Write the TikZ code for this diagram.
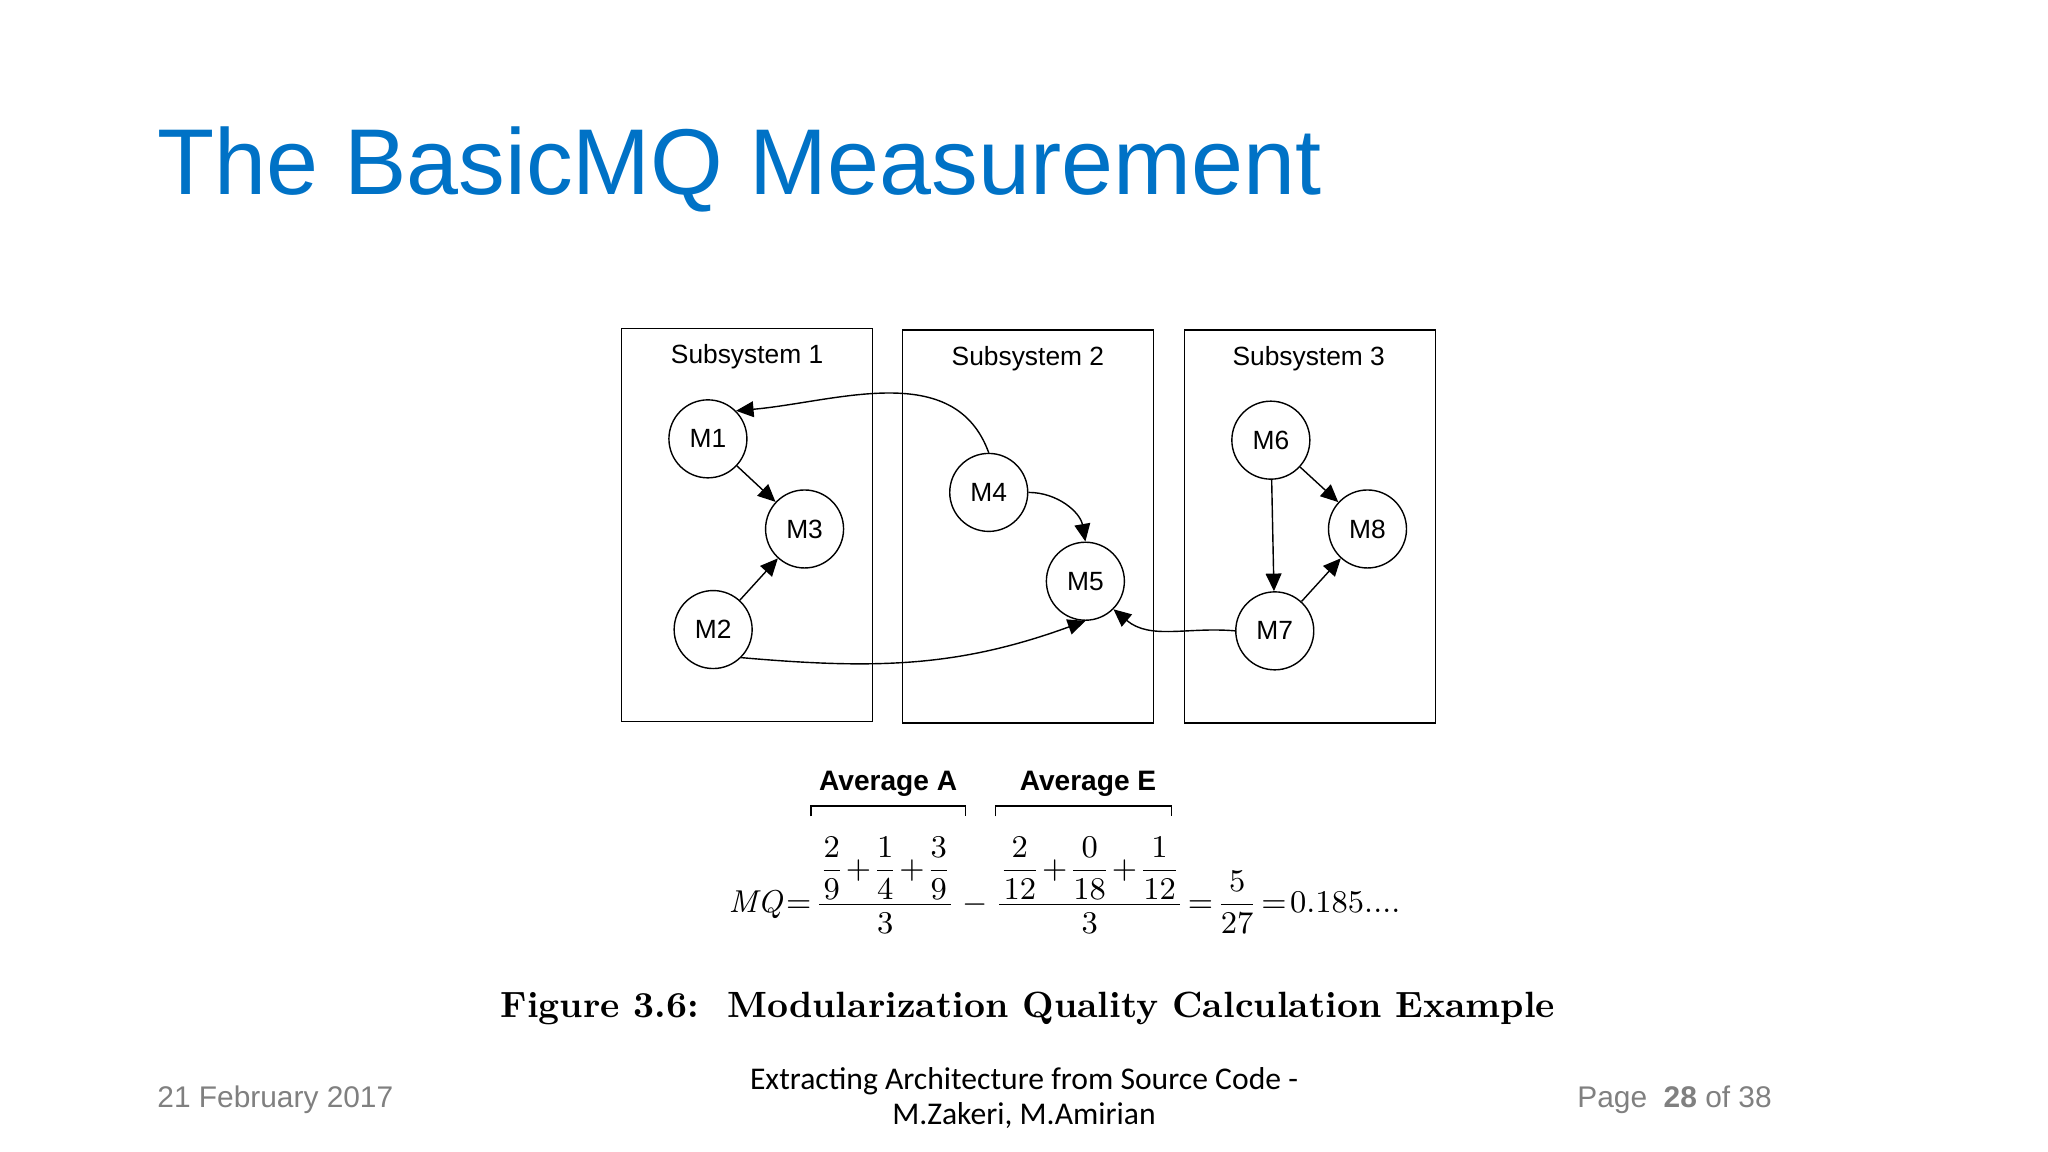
\documentclass[tikz,border=0pt]{standalone}
\usepackage{amsmath}
\usepackage{fontspec}
\setsansfont{Liberation Sans}
\newfontfamily\footfont{Carlito}
\usetikzlibrary{arrows.meta, positioning}
\definecolor{titleblue}{RGB}{0,114,198}
\definecolor{footgray}{RGB}{128,128,128}
\tikzstyle{subsys} = [draw, thin, minimum width=2.51cm, minimum height=3.93cm]
\tikzstyle{module} = [circle, draw, thin, minimum size=0.78cm, inner sep=0pt, font=\sffamily\fontsize{7.5}{9}\selectfont]
\tikzstyle{dep} = [-{Triangle[length=5pt,width=4.5pt]}, thin]
\tikzstyle{avg} = [font=\sffamily\bfseries\fontsize{8}{10}\selectfont]

\begin{document}
\begin{tikzpicture}[x=0.01306cm, y=-0.01306cm]
    \useasboundingbox (0,0) rectangle (1568,882);

    % Title
    \node (title) at (120,130) [anchor=west, inner sep=0pt, text=titleblue, font=\sffamily\fontsize{26.6}{30}\selectfont] {The BasicMQ Measurement};

    % Subsystems
    \node (s1) at (572,402) [subsys] {};
    \node (s2) at (787,403) [subsys] {};
    \node (s3) at (1003,403) [subsys] {};
    \node at (572,273) [font=\sffamily\fontsize{7.5}{9}\selectfont] {Subsystem 1};
    \node at (787,275) [font=\sffamily\fontsize{7.5}{9}\selectfont] {Subsystem 2};
    \node at (1002,275) [font=\sffamily\fontsize{7.5}{9}\selectfont] {Subsystem 3};

    % Modules
    \node (m1) at (542,336) [module] {M1};
    \node (m3) at (616,405) [module] {M3};
    \node (m2) at (546,482) [module] {M2};
    \node (m4) at (757,377) [module] {M4};
    \node (m5) at (831,445) [module] {M5};
    \node (m6) at (973,337) [module] {M6};
    \node (m8) at (1047,405) [module] {M8};
    \node (m7) at (976,483) [module] {M7};

    % Dependencies
    \draw [dep] (m1) -- (m3);
    \draw [dep] (m2) -- (m3);
    \draw [dep] (m4.north) to[out=110,in=5] (m1.north east);
    \draw [dep] (m4.east) to[out=0,in=100] (m5.north);
    \draw [dep] (m2.south east) to[out=-5,in=200] (m5.south);
    \draw [dep] (m7.west) to[out=175,in=-40] (m5.south east);
    \draw [dep] (m6) -- (m8);
    \draw [dep] (m6) -- (m7);
    \draw [dep] (m7) -- (m8);

    % Formula
    \node (mq) at (815,678) [font=\fontsize{9}{11}\selectfont] {$\mathit{MQ}\!=\!
      \dfrac{\dfrac{2}{9}\!+\!\dfrac{1}{4}\!+\!\dfrac{3}{9}}{3}
      -\dfrac{\dfrac{2}{12}\!+\!\dfrac{0}{18}\!+\!\dfrac{1}{12}}{3}
      \!=\!\dfrac{5}{27}\!=\!0.185....$};
    \node (avga) at (680,600) [avg] {Average A};
    \node (avge) at (833,600) [avg] {Average E};
    \draw (621,625) -- (621,617) -- (739,617) -- (739,625);
    \draw (762,625) -- (762,617) -- (897,617) -- (897,625);

    % Caption
    \node (caption) at (787,772) [font=\bfseries\fontsize{10.4}{12}\selectfont] {Figure 3.6:\ \ Modularization Quality Calculation Example};

    % Footer
    \node (date) at (120,842) [anchor=west, inner sep=0pt, text=footgray, font=\sffamily\fontsize{8.5}{10}\selectfont] {21 February 2017};
    \node (talk) at (784,841) [align=center, font=\footfont\fontsize{9}{10}\selectfont] {Extracting Architecture from Source Code -\\M.Zakeri, M.Amirian};
    \node (page) at (1357,842) [anchor=east, inner sep=0pt, text=footgray, font=\sffamily\fontsize{8.5}{10}\selectfont] {Page \ \textbf{28} of 38};
\end{tikzpicture}
\end{document}
